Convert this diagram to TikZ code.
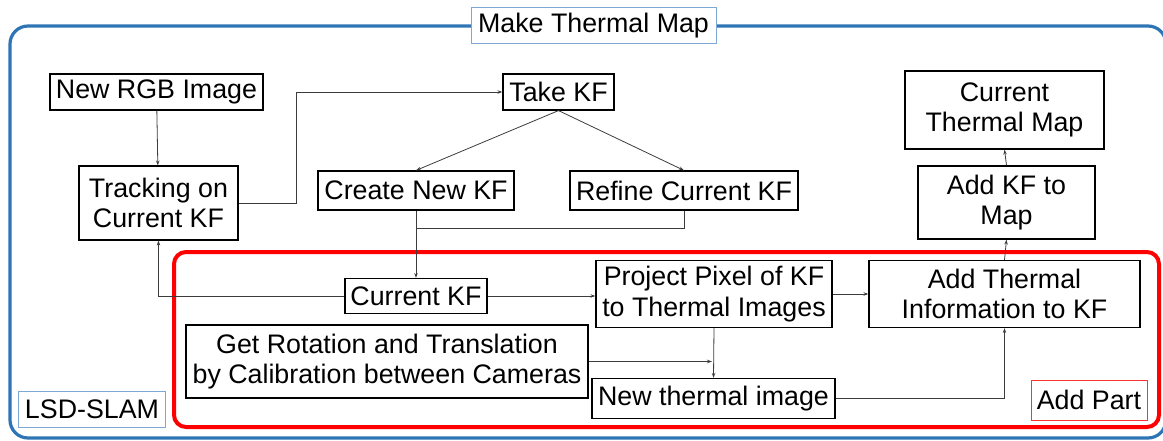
\documentclass[tikz,border=0pt]{standalone}
\usepackage{fontspec}
\setmainfont{Liberation Sans}
\usetikzlibrary{arrows.meta}
\definecolor{frameblue}{RGB}{46,117,182}
\definecolor{tagblue}{RGB}{125,168,216}
\definecolor{partred}{RGB}{255,0,0}
\definecolor{linegray}{RGB}{60,60,60}
\tikzset{
  stepbox/.style={draw=black, line width=1.2pt, fill=white, inner sep=0pt, align=center,
    font=\fontsize{26.8}{30.5}\selectfont},
  tagbox/.style={draw=tagblue, line width=1pt, fill=white, inner sep=0pt,
    font=\fontsize{26.8}{30.5}\selectfont},
  wh/.style 2 args={minimum width=#1pt, minimum height=#2pt},
  flow/.style={draw=linegray, line width=0.8pt, -{Stealth[length=5pt,width=3.5pt]}},
  plain/.style={draw=linegray, line width=0.8pt}
}
\begin{document}
\begin{tikzpicture}[x=1pt, y=-1pt]
\useasboundingbox (0,0) rectangle (1163,441);

% outer frame and the added section
\draw[frameblue, line width=3.2pt, rounded corners=18pt] (10,26) rectangle (1166,438);
\draw[partred, line width=4pt, rounded corners=12pt] (174,252) rectangle (1159,427);

% frame labels
\node[tagbox, wh={245}{36}] (title) at (593.5,26) {Make Thermal Map};
\node[tagbox, wh={147}{36}] (lsd) at (92,409) {LSD-SLAM};
\node[tagbox, draw=partred!80, wh={116}{40}] (addpart) at (1089,400) {Add Part};

% steps
\node[stepbox, wh={213}{36}] (rgb) at (156.5,92) {New RGB Image};
\node[stepbox, wh={159}{74}] (track) at (158.5,203) {Tracking on\\Current KF};
\node[stepbox, wh={111}{36}] (take) at (558.5,92) {Take KF};
\node[stepbox, wh={196}{39}] (create) at (416,190.5) {Create New KF};
\node[stepbox, wh={228}{39}] (refine) at (684,190.5) {Refine Current KF};
\node[stepbox, wh={199}{78}] (ctm) at (1004.5,110) {Current\\Thermal Map};
\node[stepbox, wh={177}{73}] (addkf) at (1006.5,202.5) {Add KF to\\Map};
\node[stepbox, wh={142}{35}] (curkf) at (416,296) {Current KF};
\node[stepbox, wh={236}{67}] (proj) at (714,294) {Project Pixel of KF\\to Thermal Images};
\node[stepbox, wh={271}{67}] (addth) at (1004.5,294) {Add Thermal\\Information to KF};
\node[stepbox, wh={402}{73}] (getrot) at (387,361.5) {Get Rotation and Translation\\by Calibration between Cameras};
\node[stepbox, wh={243}{40}] (newth) at (713.5,398.5) {New thermal image};

% connectors
\coordinate (join) at (416,228);
\draw[flow] (rgb) -- (track);
\draw[flow] (track.east) -- ++(58,0) |- (take.west);
\draw[flow] (take.south) -- (create.north);
\draw[flow] (take.south) -- (refine.north);
\draw[plain] (refine.south) |- (join);
\draw[flow] (create.south) -- (curkf.north);
\draw[flow] (curkf.west) -| (track.south);
\draw[flow] (curkf.east) -- (proj.west |- curkf.east);
\draw[flow] (proj.east) -- (addth.west);
\draw[flow] (addth.north) -- (addkf.south);
\draw[flow] (addkf.north) -- (ctm.south);
\draw[flow] (proj.south) -- (newth.north);
\draw[flow, shorten >=2pt] (getrot.east) -- (getrot.east -| proj.south);
\draw[flow] (newth.east) -| (addth.south);
\end{tikzpicture}
\end{document}
